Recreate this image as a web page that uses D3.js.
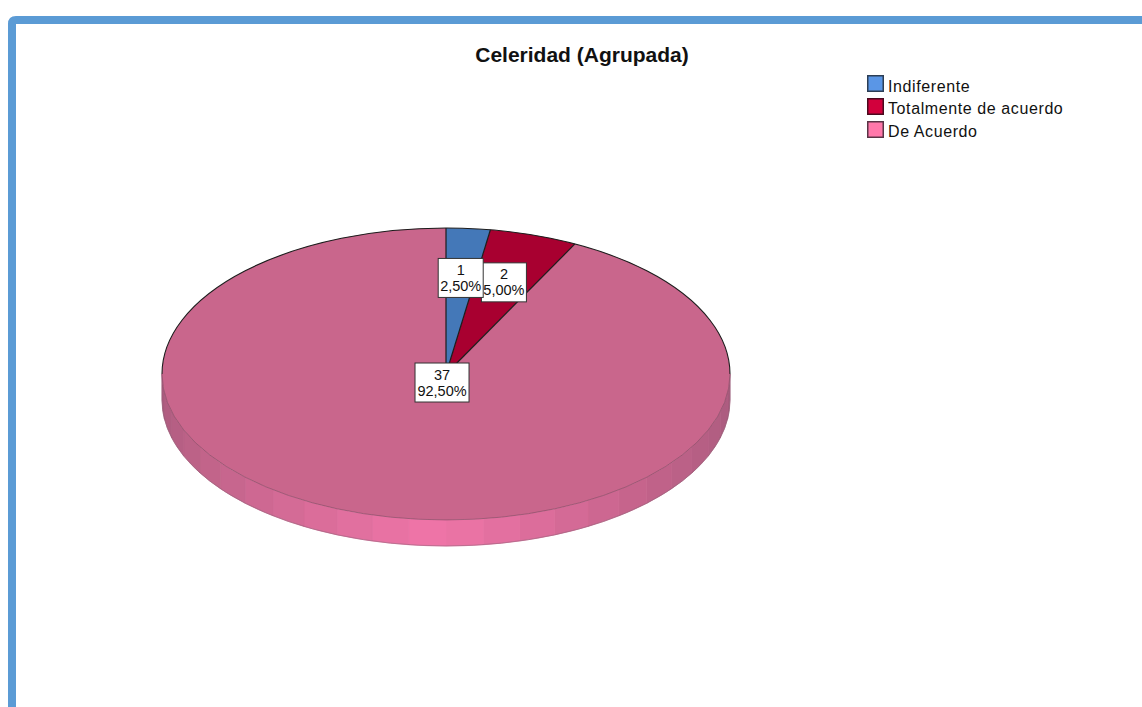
<!doctype html>
<html>
  <head>
    <meta charset="utf-8">
    <script src="https://cdnjs.cloudflare.com/ajax/libs/d3/7.8.5/d3.min.js"></script>
    <style>
      html, body { margin:0; padding:0; background:#fff; overflow:hidden; }
      text { font-family:"Liberation Sans", Arial, sans-serif; fill:#111; }
    </style>
  </head>
<body>
  <svg id="chart" width="1142" height="707"></svg>
  <script>
    var categories = ["Indiferente", "Totalmente de acuerdo", "De Acuerdo"];
    var counts = [1, 2, 37];
    var percentLabels = ["2,50%", "5,00%", "92,50%"];
    var topColors = ["#4478b8", "#a80030", "#c9668c"];
    var legendColors = ["#5a96e6", "#d2003c", "#ff78aa"];
    var legendEdges = ["#2c3e55", "#4a0a1e", "#5a3446"];

    var cx = 446, cy = 374, rx = 284, ry = 146, depth = 26;
    var labelRadius = [0.66, 0.66, 0.06];

    var svg = d3.select("#chart");

    // frame
    svg.append("path")
       .attr("d", "M12,707V24Q12,20 16,20H1142")
       .attr("fill", "none")
       .attr("stroke", "#5b9bd5")
       .attr("stroke-width", 8);

    svg.append("text")
       .attr("x", 582).attr("y", 62)
       .attr("text-anchor", "middle")
       .style("font-size", "21px")
       .style("font-weight", "bold")
       .text("Celeridad (Agrupada)");

    // legend
    var legend = svg.selectAll(".legend")
                    .data(categories)
                    .enter()
                    .append("g")
                    .attr("class", "legend")
                    .attr("transform", (d, i) => "translate(867," + (75 + i * 23) + ")");
    legend.append("rect")
          .attr("x", 0.75).attr("y", 0.75)
          .attr("width", 15.5).attr("height", 15.5)
          .attr("fill", (d, i) => legendColors[i])
          .attr("stroke", (d, i) => legendEdges[i])
          .attr("stroke-width", 1.5);
    legend.append("text")
          .attr("x", 21).attr("y", (d, i) => i == 0 ? 17 : 16)
          .style("font-size", "16px")
          .style("letter-spacing", "0.6px")
          .text(d => d);

    var pie = d3.pie().sort(null);
    var slices = pie(counts);

    var px = a => cx + rx * Math.sin(a);
    var py = a => cy - ry * Math.cos(a);
    var rad = d => d * Math.PI / 180;

    // side wall, made of flat facets like the original
    var wallShade = d3.scaleLinear()
                      .domain([90, 135, 182, 228, 270])
                      .range(["#a65a7c", "#c2638a", "#f075a8", "#c8668e", "#a85a7c"]);
    var facets = d3.range(90, 270, 7.5);
    svg.selectAll(".facet")
       .data(facets)
       .enter()
       .append("path")
       .attr("class", "facet")
       .attr("d", d => {
         var a0 = rad(d), a1 = rad(d + 7.5);
         return "M" + px(a0) + "," + py(a0) +
                "A" + rx + "," + ry + " 0 0 1 " + px(a1) + "," + py(a1) +
                "L" + px(a1) + "," + (py(a1) + depth) +
                "A" + rx + "," + ry + " 0 0 0 " + px(a0) + "," + (py(a0) + depth) + "Z";
       })
       .attr("fill", d => wallShade(d + 3.75))
       .attr("stroke", d => wallShade(d + 3.75))
       .attr("stroke-width", 0.8);

    // lower edge of the wall
    svg.append("path")
       .attr("d", "M" + (cx - rx) + "," + cy + "V" + (cy + depth) +
                  "A" + rx + "," + ry + " 0 0 0 " + (cx + rx) + "," + (cy + depth) + "V" + cy)
       .attr("fill", "none")
       .attr("stroke", "#8a6074")
       .attr("stroke-width", 0.5);

    // top face: d3.arc on a circle, flattened to the ellipse
    var arc = d3.arc().innerRadius(0).outerRadius(rx);
    svg.append("g")
       .attr("transform", "translate(" + cx + "," + cy + ") scale(1," + (ry / rx) + ")")
       .selectAll("path")
       .data(slices)
       .enter()
       .append("path")
       .attr("d", arc)
       .attr("fill", (d, i) => topColors[i]);

    // outline: dark along the back half and the slice edges, faint along the front
    svg.append("path")
       .attr("d", "M" + (cx - rx) + "," + cy + "A" + rx + "," + ry + " 0 0 1 " + (cx + rx) + "," + cy)
       .attr("fill", "none")
       .attr("stroke", "#1c1c1c")
       .attr("stroke-width", 1.1);
    svg.append("path")
       .attr("d", "M" + (cx - rx) + "," + cy + "A" + rx + "," + ry + " 0 0 0 " + (cx + rx) + "," + cy)
       .attr("fill", "none")
       .attr("stroke", "#7d4a62")
       .attr("stroke-width", 0.6);
    svg.selectAll(".edge")
       .data(slices)
       .enter()
       .append("line")
       .attr("class", "edge")
       .attr("x1", cx).attr("y1", cy)
       .attr("x2", d => px(d.startAngle))
       .attr("y2", d => py(d.startAngle))
       .attr("stroke", "#1c1c1c")
       .attr("stroke-width", 1.2);

    // value labels
    var labelOrder = [1, 0, 2];
    var labels = svg.selectAll(".label")
                    .data(labelOrder)
                    .enter()
                    .append("g")
                    .attr("class", "label")
                    .attr("transform", i => {
                      var mid = (slices[i].startAngle + slices[i].endAngle) / 2;
                      var f = labelRadius[i];
                      return "translate(" + (cx + rx * f * Math.sin(mid)) + "," + (cy - ry * f * Math.cos(mid)) + ")";
                    });
    labels.append("rect")
          .attr("x", i => i == 2 ? -27 : -22.5)
          .attr("y", -19.5)
          .attr("width", i => i == 2 ? 54 : 45)
          .attr("height", 39)
          .attr("fill", "#fff")
          .attr("stroke", "#333")
          .attr("stroke-width", 1);
    labels.append("text")
          .attr("text-anchor", "middle")
          .attr("y", -3)
          .style("font-size", "14.5px")
          .text(i => counts[i]);
    labels.append("text")
          .attr("text-anchor", "middle")
          .attr("y", 13)
          .style("font-size", "14.5px")
          .text(i => percentLabels[i]);
  </script>
</body>
</html>
